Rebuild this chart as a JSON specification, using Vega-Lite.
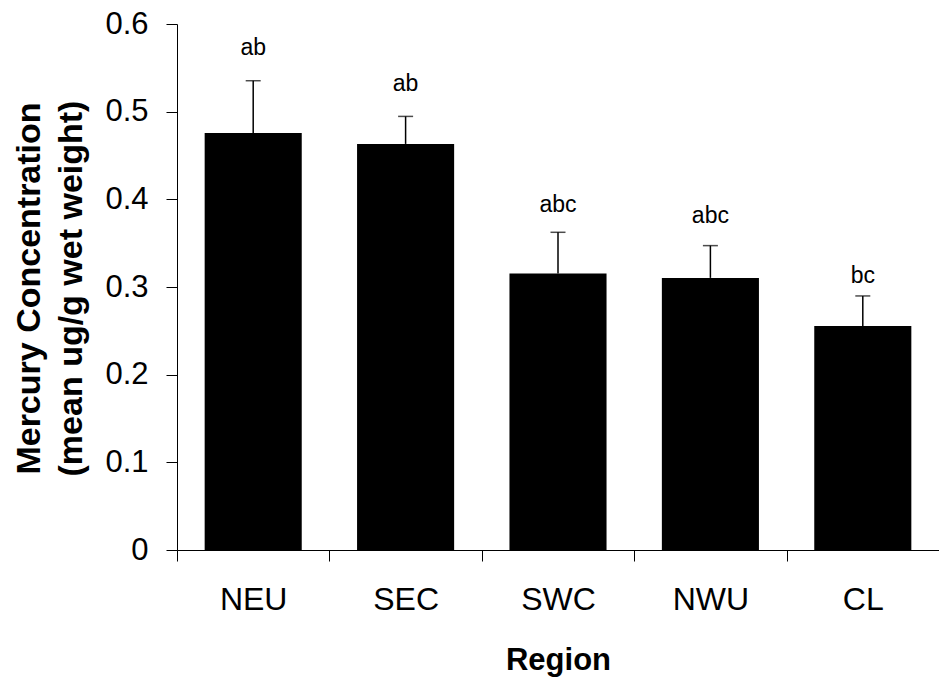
{
  "$schema": "https://vega.github.io/schema/vega-lite/v6.json",
  "width": 762,
  "height": 526,
  "autosize": {"type": "none"},
  "padding": {"left": 177, "top": 24, "right": 0, "bottom": 132},
  "background": "white",
  "config": {
    "view": {"stroke": null},
    "font": "Liberation Sans",
    "axis": {"domainColor": "black", "tickColor": "black", "labelColor": "black", "titleColor": "black", "grid": false, "labelFont": "Liberation Sans", "titleFont": "Liberation Sans"}
  },
  "data": {
    "values": [
      {"region": "NEU", "mean": 0.4757, "err": 0.5353, "letters": "ab", "ly": 0.565},
      {"region": "SEC", "mean": 0.4632, "err": 0.4946, "letters": "ab", "ly": 0.524},
      {"region": "SWC", "mean": 0.3153, "err": 0.3624, "letters": "abc", "ly": 0.386},
      {"region": "NWU", "mean": 0.3104, "err": 0.3472, "letters": "abc", "ly": 0.373},
      {"region": "CL", "mean": 0.2556, "err": 0.2898, "letters": "bc", "ly": 0.305}
    ]
  },
  "encoding": {
    "x": {
      "field": "region",
      "type": "nominal",
      "sort": null,
      "scale": {"paddingInner": 0, "paddingOuter": 0},
      "axis": {
        "title": "Region",
        "labelAngle": 0,
        "labelFontSize": 32,
        "labelPadding": 23,
        "tickSize": 11,
        "tickBand": "extent",
        "titleFontSize": 31,
        "titleFontWeight": "bold",
        "titleBaseline": "alphabetic",
        "titleY": 119.5,
        "titleX": 381
      }
    }
  },
  "layer": [
    {
      "mark": {"type": "bar", "color": "black", "width": {"band": 0.637}},
      "encoding": {
        "y": {
          "field": "mean",
          "type": "quantitative",
          "scale": {"domain": [0, 0.6], "nice": false},
          "axis": {
            "values": [0, 0.1, 0.2, 0.3, 0.4, 0.5, 0.6],
            "format": "~g",
            "labelFontSize": 31,
            "labelPadding": 18,
            "tickSize": 11,
            "title": ["Mercury Concentration", "(mean ug/g wet weight)"],
            "titleFontSize": 34,
            "titleFontWeight": "bold",
            "titleLineHeight": 42,
            "titleAngle": -90,
            "titleAlign": "center",
            "titleBaseline": "alphabetic",
            "titleX": -137.5,
            "titleY": 264
          }
        }
      }
    },
    {
      "mark": {"type": "rule", "color": "black", "strokeWidth": 1.5},
      "encoding": {
        "y": {"field": "mean", "type": "quantitative"},
        "y2": {"field": "err"}
      }
    },
    {
      "mark": {"type": "tick", "color": "black", "size": 15, "thickness": 1.5, "orient": "horizontal"},
      "encoding": {
        "y": {"field": "err", "type": "quantitative"}
      }
    },
    {
      "mark": {"type": "text", "baseline": "alphabetic", "align": "center", "fontSize": 23, "color": "black"},
      "encoding": {
        "y": {"field": "ly", "type": "quantitative"},
        "text": {"field": "letters"}
      }
    }
  ]
}
